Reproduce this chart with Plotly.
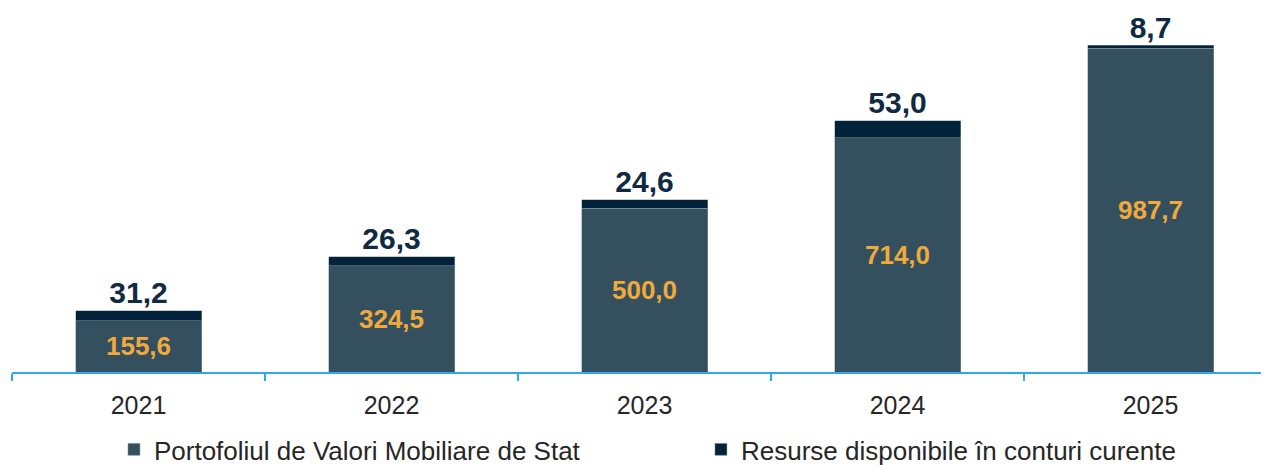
import plotly.graph_objects as go

years = ["2021", "2022", "2023", "2024", "2025"]
portofoliu = [155.6, 324.5, 500.0, 714.0, 987.7]
resurse = [31.2, 26.3, 24.6, 53.0, 8.7]

name_port = "Portofoliul de Valori Mobiliare de Stat"
name_res = "Resurse disponibile în conturi curente"

def fmt(v):
    return f"{v:.1f}".replace(".", ",")

FONT = "Liberation Sans, Arial, sans-serif"

totals = [p + r for p, r in zip(portofoliu, resurse)]

fig = go.Figure()
fig.add_trace(go.Bar(
    x=years, y=portofoliu, name=name_port,
    marker=dict(color="#34505F", line=dict(color="#8A9BA6", width=0.5)),
    text=[fmt(v) for v in portofoliu], textposition="inside",
    insidetextanchor="middle",
    textfont=dict(family=FONT, size=26, color="#F2A93B", weight="bold"),
    hoverinfo="skip",
))
fig.add_trace(go.Bar(
    x=years, y=resurse, name=name_res,
    marker=dict(color="#02223A", line=dict(color="#8A9BA6", width=0.5)),
    textposition="none",
    hoverinfo="skip",
))
fig.add_trace(go.Scatter(
    x=years, y=totals, mode="text",
    text=[fmt(v) for v in resurse], textposition="top center",
    textfont=dict(family=FONT, size=30, color="#0F2A42", weight="bold"),
    showlegend=False, hoverinfo="skip", cliponaxis=False,
))

fig.update_layout(
    barmode="stack",
    bargap=0.502,
    width=1269, height=465,
    margin=dict(l=4, r=0, t=2, b=101, autoexpand=False),
    paper_bgcolor="white", plot_bgcolor="white",
    font=dict(family=FONT, size=20, color="#262626"),
    showlegend=True,
    legend=dict(
        orientation="h", x=0.0806, xanchor="left", y=-0.214, yanchor="middle",
        font=dict(family=FONT, size=26, color="#262626"),
        entrywidth=542, traceorder="normal",
        itemclick=False, itemdoubleclick=False,
    ),
)
fig.update_xaxes(
    type="category", range=[-0.5, 4.5],
    showline=True, linecolor="#2EA8F0", linewidth=2,
    ticks="outside", tickson="boundaries", tickcolor="#2EA8F0",
    ticklen=7, tickwidth=2, ticklabelstandoff=10,
    showgrid=False, zeroline=False, automargin=False,
    tickfont=dict(family=FONT, size=25, color="#262626"),
)
fig.update_yaxes(
    range=[0, 1104], visible=False, showgrid=False, zeroline=False,
)

fig.write_html("out.html")
